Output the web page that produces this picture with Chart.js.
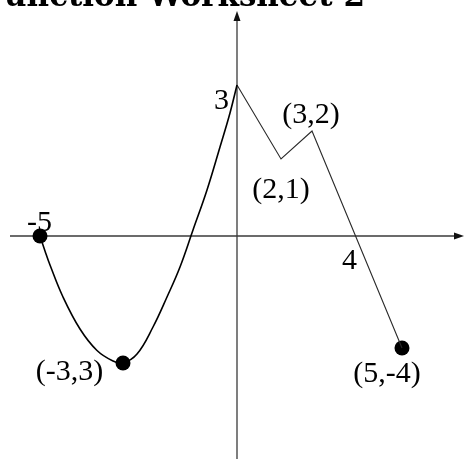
<!DOCTYPE html>
<html>
<head>
<meta charset="utf-8">
<script src="https://cdn.jsdelivr.net/npm/chart.js@4/dist/chart.umd.min.js"></script>
<style>
    html, body { margin: 0; padding: 0; background: #fff; overflow: hidden; }
    #sketch { display: block; }
</style>
</head>
<body>
<canvas id="sketch" width="464" height="459"></canvas>
<script>
// Values are read off the drawing (sketch units: the hand sketch is not to scale)
const curveX = [-4.925, -4.8, -4.675, -4.35, -3.925, -3.5, -3.1, -2.85, -2.5, -2.1, -1.75, -1.425, -1.1, -0.75, -0.425, -0.175, 0];
const curveY = [0, -0.3, -0.58, -1.22, -1.86, -2.29, -2.5, -2.54, -2.36, -1.82, -1.22, -0.62, 0.12, 0.92, 1.78, 2.46, 3.02];

const zigX = [0, 1.1, 1.875, 4.125];
const zigY = [3.02, 1.54, 2.1, -2.24];

const dotX = [-4.925, -2.85, 4.125];
const dotY = [0, -2.54, -2.24];

const labelTexts = ['3', '(3,2)', '(2,1)', '-5', '4', '(5,-4)', '(-3,3)'];
const labelAtX = [0, 1.875, 1.1, -4.925, 3.0, 4.125, -2.85];
const labelAtY = [3.02, 2.1, 1.54, 0, 0, -2.24, -2.54];

const titleText = 'Function Worksheet 2';

// view window and axis extents (sketch units)
const xRange = [-5.925, 5.675];
const yRange = [-4.46, 4.72];
const xAxisSpan = [-5.675, 5.675];
const yAxisSpan = [-4.46, 4.5];

// pixel nudges for the annotation text, same order as labelTexts
const labelDx = [-15.5, -1, 0, -0.5, -7.5, -15, -53.5];
const labelDy = [24, -8, 39, -5, 33, 34, 17];

const toPoints = (xs, ys) => xs.map((x, i) => ({ x, y: ys[i] }));

function arrowHead(c, tipX, tipY, dirX, dirY) {
    const len = 10, half = 3.5;
    const bx = tipX - dirX * len, by = tipY - dirY * len;
    c.beginPath();
    c.moveTo(tipX, tipY);
    c.lineTo(bx - dirY * half, by + dirX * half);
    c.lineTo(bx + dirY * half, by - dirX * half);
    c.closePath();
    c.fill();
}

const sketchDecor = {
    id: 'sketchDecor',
    beforeDatasetsDraw(chart) {
        const { ctx, scales: { x, y } } = chart;
        const x0 = x.getPixelForValue(0), y0 = y.getPixelForValue(0);
        ctx.save();
        ctx.strokeStyle = '#3a3a3a';
        ctx.fillStyle = '#111';
        ctx.lineWidth = 1.3;

        // x axis
        const xa = x.getPixelForValue(xAxisSpan[0]), xb = x.getPixelForValue(xAxisSpan[1]);
        ctx.beginPath();
        ctx.moveTo(xa, y0);
        ctx.lineTo(xb - 6, y0);
        ctx.stroke();
        arrowHead(ctx, xb, y0, 1, 0);

        // y axis
        const ya = y.getPixelForValue(yAxisSpan[0]), yb = y.getPixelForValue(yAxisSpan[1]);
        ctx.beginPath();
        ctx.moveTo(x0, ya);
        ctx.lineTo(x0, yb + 6);
        ctx.stroke();
        arrowHead(ctx, x0, yb, 0, -1);

        // annotations
        ctx.fillStyle = '#000';
        ctx.font = '30px "Liberation Serif", serif';
        ctx.textAlign = 'center';
        ctx.textBaseline = 'alphabetic';
        labelTexts.forEach((t, i) => {
            const px = x.getPixelForValue(labelAtX[i]) + labelDx[i];
            const py = y.getPixelForValue(labelAtY[i]) + labelDy[i];
            ctx.fillText(t, px, py);
        });
        ctx.restore();
    },
    afterDraw(chart) {
        const { ctx } = chart;
        ctx.save();
        ctx.fillStyle = '#000';
        ctx.font = 'bold 31px "DejaVu Serif", serif';
        ctx.textAlign = 'right';
        ctx.textBaseline = 'alphabetic';
        ctx.fillText(titleText, 365, 6);
        ctx.restore();
    }
};

new Chart(document.getElementById('sketch'), {
    type: 'scatter',
    data: {
        datasets: [
            {
                label: 'curve',
                data: toPoints(curveX, curveY),
                showLine: true,
                borderColor: '#000',
                borderWidth: 1.6,
                pointRadius: 0,
                tension: 0.4
            },
            {
                label: 'zigzag',
                data: toPoints(zigX, zigY),
                showLine: true,
                borderColor: '#2a2a2a',
                borderWidth: 1.1,
                pointRadius: 0,
                tension: 0
            },
            {
                label: 'dots',
                data: toPoints(dotX, dotY),
                showLine: false,
                pointRadius: 7.5,
                pointBackgroundColor: '#000',
                pointBorderWidth: 0
            }
        ]
    },
    options: {
        responsive: false,
        animation: false,
        layout: { padding: 0, autoPadding: false },
        plugins: { legend: { display: false }, tooltip: { enabled: false }, title: { display: false } },
        scales: {
            x: { type: 'linear', min: xRange[0], max: xRange[1], display: false },
            y: { type: 'linear', min: yRange[0], max: yRange[1], display: false }
        }
    },
    plugins: [sketchDecor]
});
</script>
</body>
</html>
